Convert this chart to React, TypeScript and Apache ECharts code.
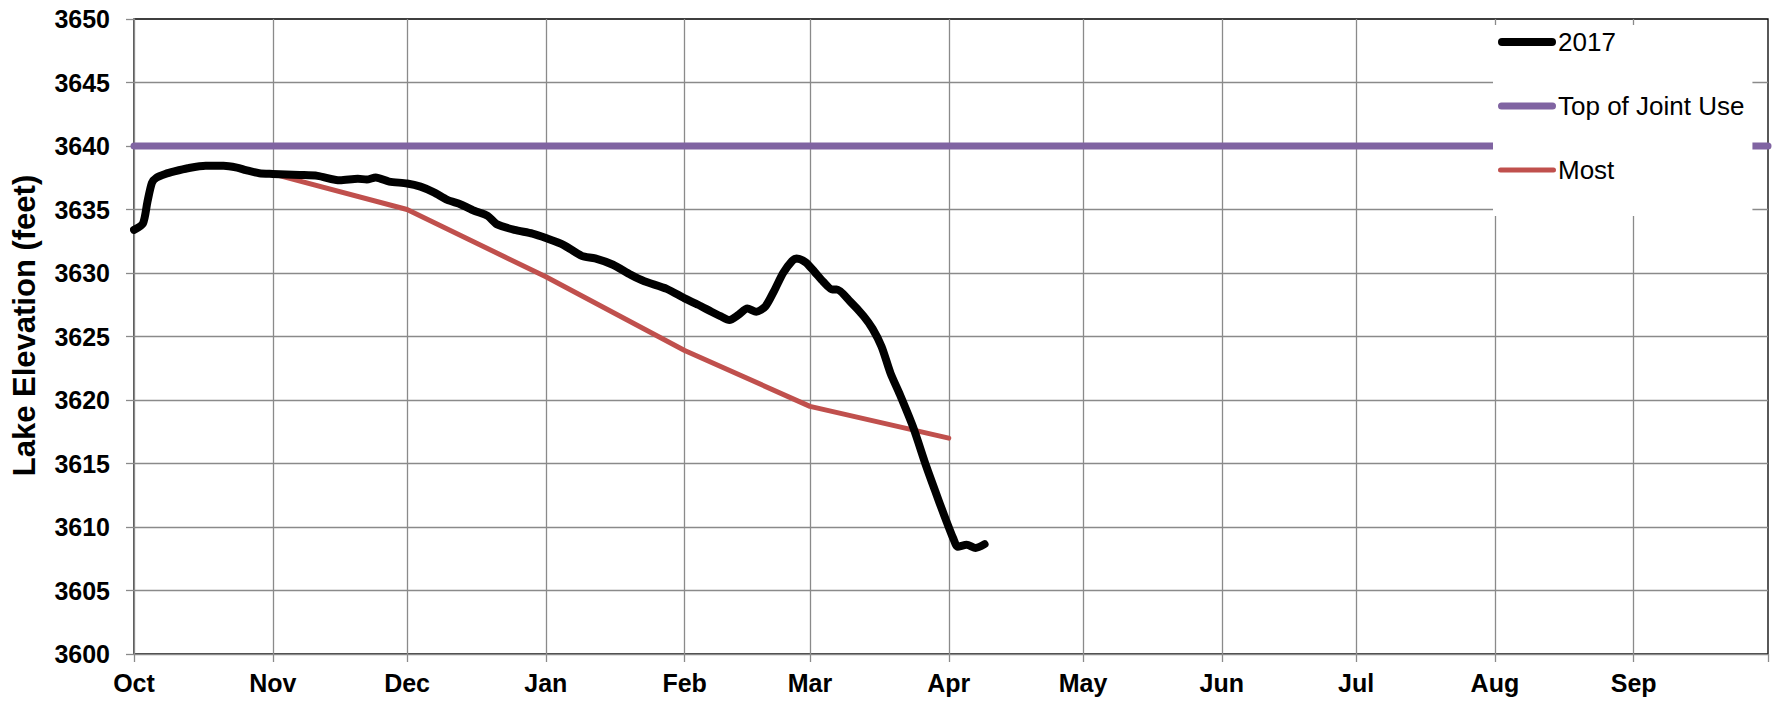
import React, { useEffect, useRef } from 'react';
import * as echarts from 'echarts';

// ---- Data ----
const monthLabels = ['Jan', 'Feb', 'Mar', 'Apr', 'May', 'Jun', 'Jul', 'Aug', 'Sep', 'Oct', 'Nov', 'Dec'];
const yTicks = { min: 3600, max: 3650, step: 5 };

const elev2017Dates = [
  '2016-10-01', '2016-10-03', '2016-10-04', '2016-10-05', '2016-10-06', '2016-10-08', '2016-10-10',
  '2016-10-13', '2016-10-17', '2016-10-21', '2016-10-24', '2016-10-26', '2016-10-29',
  '2016-11-01', '2016-11-07', '2016-11-11', '2016-11-16', '2016-11-20', '2016-11-22', '2016-11-24', '2016-11-27',
  '2016-12-01', '2016-12-04', '2016-12-07', '2016-12-10', '2016-12-13', '2016-12-16', '2016-12-19', '2016-12-21',
  '2016-12-25', '2016-12-29',
  '2017-01-01', '2017-01-05', '2017-01-09', '2017-01-12', '2017-01-16', '2017-01-20', '2017-01-23', '2017-01-28',
  '2017-02-01', '2017-02-04', '2017-02-07', '2017-02-09', '2017-02-11', '2017-02-13', '2017-02-15', '2017-02-17',
  '2017-02-19', '2017-02-21', '2017-02-23', '2017-02-25', '2017-02-26', '2017-02-28',
  '2017-03-02', '2017-03-04', '2017-03-06', '2017-03-07', '2017-03-10', '2017-03-13', '2017-03-15', '2017-03-17',
  '2017-03-19', '2017-03-21', '2017-03-24', '2017-03-27', '2017-03-29', '2017-03-31',
  '2017-04-02', '2017-04-03', '2017-04-05', '2017-04-07', '2017-04-09',
];
const elev2017Values = [
  3633.4, 3633.9, 3635.6, 3637.1, 3637.5, 3637.8, 3638.0,
  3638.25, 3638.45, 3638.45, 3638.3, 3638.1, 3637.85,
  3637.8, 3637.72, 3637.65, 3637.3, 3637.42, 3637.36, 3637.52, 3637.2,
  3637.05, 3636.8, 3636.35, 3635.75, 3635.4, 3634.9, 3634.5, 3633.85,
  3633.4, 3633.1,
  3632.75, 3632.2, 3631.35, 3631.15, 3630.65, 3629.85, 3629.35, 3628.75,
  3628.0, 3627.5, 3626.95, 3626.6, 3626.3, 3626.7, 3627.2, 3626.95,
  3627.35, 3628.6, 3630.0, 3630.95, 3631.15, 3630.85,
  3630.1, 3629.3, 3628.7, 3628.7, 3627.75, 3626.6, 3625.6, 3624.2,
  3622.1, 3620.5, 3617.9, 3614.75, 3612.8, 3610.9,
  3609.1, 3608.45, 3608.6, 3608.35, 3608.65,
];

const jointUseDates = ['2016-10-01', '2017-10-01'];
const jointUseValues = [3640, 3640];

const mostDates = ['2016-11-01', '2016-12-01', '2017-01-01', '2017-02-01', '2017-03-01', '2017-04-01'];
const mostValues = [3637.8, 3635.0, 3629.7, 3623.9, 3619.5, 3617.0];

// ---- Axis categories (one per day, water year Oct 2016 - Oct 1 2017) ----
const categories: string[] = [];
for (let i = 0; i < 366; i++) {
  const d = new Date(Date.UTC(2016, 9, 1 + i));
  categories.push(d.toISOString().slice(0, 10));
}
const catIndex: Record<string, number> = {};
categories.forEach((c, i) => (catIndex[c] = i));
const lastIdx = categories.length - 1;
const isMonthStart = (i: number) => categories[i] !== undefined && categories[i].endsWith('-01');

const toPairs = (dates: string[], vals: number[]) => dates.map((d, i) => [catIndex[d], vals[i]]);

// rounded-line legend icon of width 58 and thickness t
const lineIcon = (t: number) => {
  const r = t / 2;
  return `path://M${r},0 L${58 - r},0 A${r},${r} 0 0 1 ${58 - r},${t} L${r},${t} A${r},${r} 0 0 1 ${r},0 Z`;
};

const FONT = '"Liberation Sans", Arial, Helvetica, sans-serif';
const GRID_GRAY = '#8a8a8a';

export default function App() {
  const ref = useRef<HTMLDivElement>(null);

  useEffect(() => {
    if (!ref.current) return;
    const chart = echarts.init(ref.current, undefined, { renderer: 'svg' });
    chart.setOption({
      animation: false,
      backgroundColor: '#ffffff',
      textStyle: { fontFamily: FONT },
      grid: {
        left: 134,
        top: 19,
        right: 11,
        bottom: 49,
        show: true,
        borderColor: '#000000',
        borderWidth: 1.3,
        backgroundColor: 'transparent',
      },
      legend: {
        orient: 'vertical',
        left: 1493,
        top: 25,
        backgroundColor: '#ffffff',
        padding: [4, 8, 33, 5],
        itemGap: 38,
        itemWidth: 58,
        itemHeight: 8,
        symbolKeepAspect: true,
        textStyle: { fontSize: 26, color: '#000000', fontFamily: FONT, padding: [0, 0, 0, -3] },
        data: [
          { name: '2017', icon: lineIcon(8), itemStyle: { color: '#000000' } },
          { name: 'Top of Joint Use', icon: lineIcon(7), itemStyle: { color: '#8064A2' } },
          { name: 'Most', icon: lineIcon(5), itemStyle: { color: '#C0504D' } },
        ],
      },
      xAxis: {
        type: 'category',
        data: categories,
        boundaryGap: false,
        axisLine: { lineStyle: { color: GRID_GRAY, width: 1.3 } },
        axisTick: {
          show: true,
          interval: (i: number) => isMonthStart(i),
          length: 8,
          lineStyle: { color: GRID_GRAY, width: 1.3 },
        },
        axisLabel: {
          interval: (i: number) => isMonthStart(i) && i < lastIdx,
          formatter: (v: string) => monthLabels[parseInt(v.slice(5, 7), 10) - 1],
          fontSize: 25,
          fontWeight: 'bold',
          color: '#000000',
          fontFamily: FONT,
          margin: 16,
        },
        splitLine: {
          show: true,
          interval: (i: number) => isMonthStart(i) && i > 0 && i < lastIdx,
          lineStyle: { color: GRID_GRAY, width: 1.3 },
        },
      },
      yAxis: {
        type: 'value',
        min: yTicks.min,
        max: yTicks.max,
        interval: yTicks.step,
        name: 'Lake Elevation (feet)',
        nameLocation: 'middle',
        nameRotate: 90,
        nameGap: 94,
        nameTextStyle: {
          fontSize: 31,
          fontWeight: 'bold',
          color: '#000000',
          fontFamily: FONT,
          padding: [0, 0, 0, 22],
        },
        axisLine: { show: true, lineStyle: { color: GRID_GRAY, width: 1.3 } },
        axisTick: { show: true, length: 8, lineStyle: { color: GRID_GRAY, width: 1.3 } },
        axisLabel: {
          formatter: (v: number) => String(v),
          fontSize: 25,
          fontWeight: 'bold',
          color: '#000000',
          fontFamily: FONT,
          margin: 24,
        },
        splitLine: {
          show: true,
          showMinLine: false,
          showMaxLine: false,
          lineStyle: { color: GRID_GRAY, width: 1.3 },
        },
      },
      series: [
        {
          name: '2017',
          type: 'line',
          data: toPairs(elev2017Dates, elev2017Values),
          symbol: 'none',
          smooth: 0.25,
          z: 4,
          lineStyle: { color: '#000000', width: 8, cap: 'round', join: 'round' },
          itemStyle: { color: '#000000' },
        },
        {
          name: 'Top of Joint Use',
          type: 'line',
          data: toPairs(jointUseDates, jointUseValues),
          symbol: 'none',
          z: 3,
          lineStyle: { color: '#8064A2', width: 7, cap: 'round' },
          itemStyle: { color: '#8064A2' },
        },
        {
          name: 'Most',
          type: 'line',
          data: toPairs(mostDates, mostValues),
          symbol: 'none',
          z: 3,
          lineStyle: { color: '#C0504D', width: 5, cap: 'round', join: 'round' },
          itemStyle: { color: '#C0504D' },
        },
      ],
    });
    return () => chart.dispose();
  }, []);

  return (
    <div
      ref={ref}
      style={{ position: 'fixed', left: 0, top: 0, width: 1779, height: 703, background: '#ffffff' }}
    />
  );
}
